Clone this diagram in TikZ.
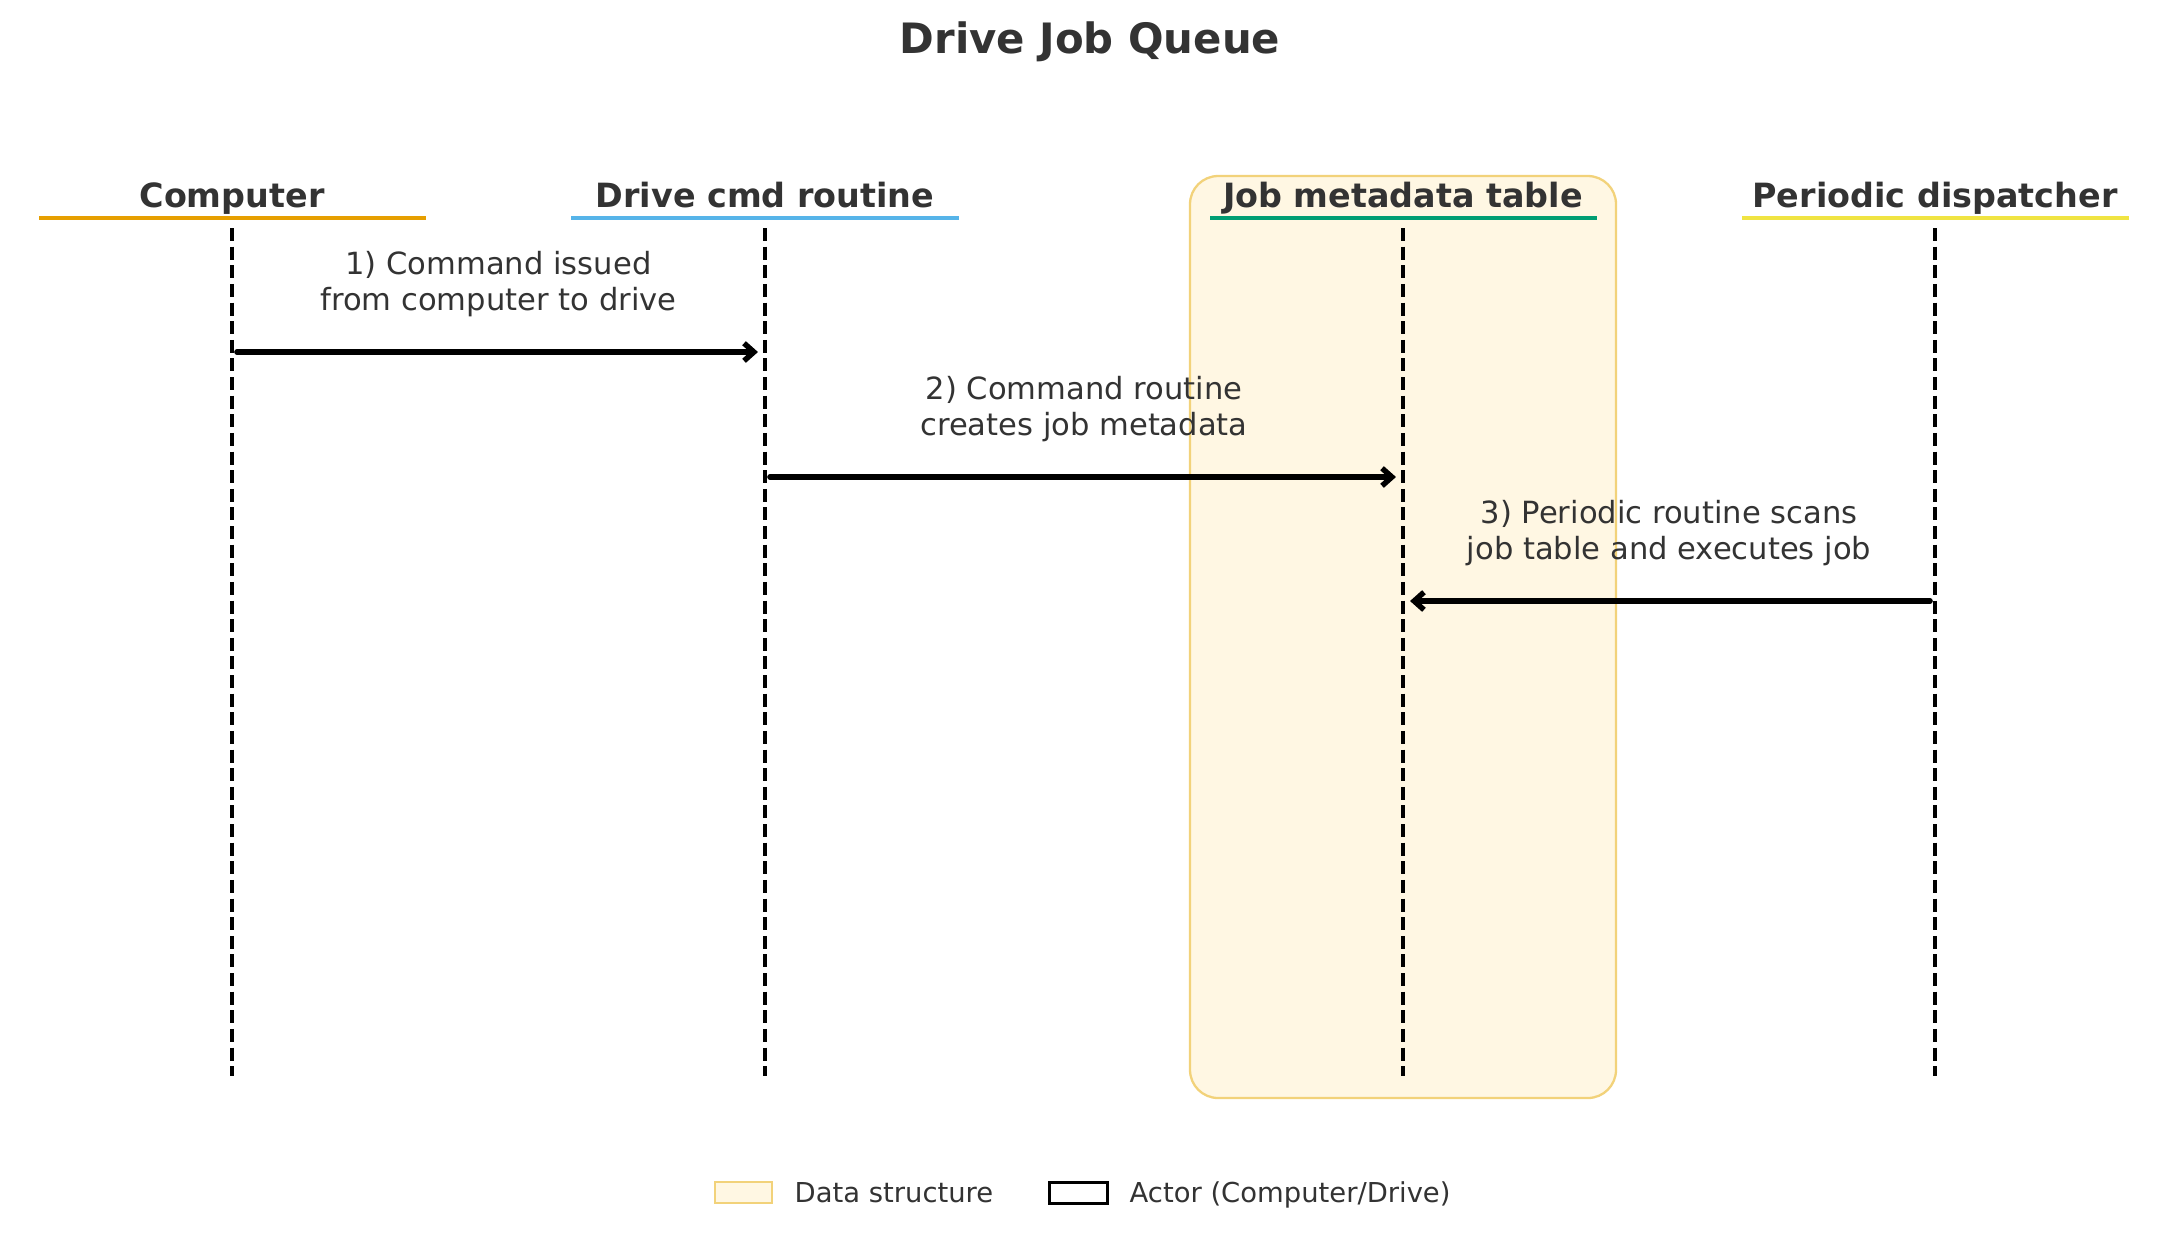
\documentclass[tikz,border=0pt]{standalone}
\usepackage{fontspec}
\setmainfont{DejaVu Sans}
\usetikzlibrary{arrows.meta,positioning}
\definecolor{txtgray}{HTML}{333333}
\definecolor{compcol}{HTML}{E69F00}
\definecolor{drivecol}{HTML}{56B4E9}
\definecolor{tablecol}{HTML}{009E73}
\definecolor{dispcol}{HTML}{F0E442}
\definecolor{dsfill}{HTML}{FFF7E3}
\definecolor{dsedge}{HTML}{F2D27A}

\tikzset{
  actor/.style={font=\fontsize{9.5}{11.4}\selectfont\bfseries, text=txtgray, anchor=base, inner sep=0pt},
  uline/.style={line width=1.05pt},
  lifeline/.style={black, line width=0.95pt, dash pattern=on 3.7pt off 1.6pt},
  msg/.style={black, line width=1.55pt, line cap=round, -{Straight Barb[length=2.8pt,width=5pt]}, shorten <=1.4pt, shorten >=2pt},
  msglabel/.style={font=\fontsize{8.7}{10.3}\selectfont, text=txtgray, align=center, anchor=south, inner sep=0pt},
  databox/.style={draw=dsedge, fill=dsfill, line width=0.65pt, rounded corners=8pt, minimum width=42.6mm, minimum height=92.2mm, inner sep=0pt},
  legtext/.style={font=\fontsize{7.8}{9.4}\selectfont, text=txtgray, anchor=base west, inner sep=0pt}
}

\begin{document}
\begin{tikzpicture}[x=0.1mm, y=-0.1mm]
  \useasboundingbox (0,0) rectangle (2168,1239);

  % title
  \node[font=\fontsize{11.9}{14.3}\selectfont\bfseries, text=txtgray, anchor=base, inner sep=0pt] (title) at (1090,53) {Drive Job Queue};

  % data structure background
  \node[databox] (dsbox) at (1403,637) {};

  % actors
  \node[actor] (comp) at (232,207) {Computer};
  \node[actor] (drv) at (765,207) {Drive cmd routine};
  \node[actor] (tbl) at (1403,207) {Job metadata table};
  \node[actor] (disp) at (1935,207) {Periodic dispatcher};
  \draw[uline, compcol] (39,218) -- (426,218);
  \draw[uline, drivecol] (571,218) -- (959,218);
  \draw[uline, tablecol] (1210,218) -- (1597,218);
  \draw[uline, dispcol] (1742,218) -- (2129,218);

  % lifelines
  \coordinate (comp-top) at (232,228);
  \coordinate (comp-bot) at (232,1076);
  \coordinate (drv-top) at (765,228);
  \coordinate (drv-bot) at (765,1076);
  \coordinate (tbl-top) at (1403,228);
  \coordinate (tbl-bot) at (1403,1076);
  \coordinate (disp-top) at (1935,228);
  \coordinate (disp-bot) at (1935,1076);
  \draw[lifeline] (comp-top) -- (comp-bot);
  \draw[lifeline] (drv-top) -- (drv-bot);
  \draw[lifeline] (tbl-top) -- (tbl-bot);
  \draw[lifeline] (disp-top) -- (disp-bot);

  % messages
  \coordinate (m1a) at (232,352);
  \coordinate (m1b) at (765,352);
  \coordinate (m2a) at (765,477);
  \coordinate (m2b) at (1403,477);
  \coordinate (m3a) at (1935,601);
  \coordinate (m3b) at (1403,601);
  \draw[msg] (m1a) -- (m1b);
  \draw[msg] (m2a) -- (m2b);
  \draw[msg] (m3a) -- (m3b);
  \node[msglabel] (l1) at (498.5,318) {1) Command issued\\from computer to drive};
  \node[msglabel] (l2) at (1084,443) {2) Command routine\\creates job metadata};
  \node[msglabel] (l3) at (1669,567) {3) Periodic routine scans\\job table and executes job};

  % legend
  \draw[draw=dsedge, fill=dsfill, line width=0.6pt] (715,1182) rectangle (772,1203);
  \node[legtext] (leg1) at (794,1202) {Data structure};
  \draw[black, fill=white, line width=0.85pt] (1049,1182) rectangle (1107,1203);
  \node[legtext] (leg2) at (1129,1202) {Actor (Computer/Drive)};
\end{tikzpicture}
\end{document}
